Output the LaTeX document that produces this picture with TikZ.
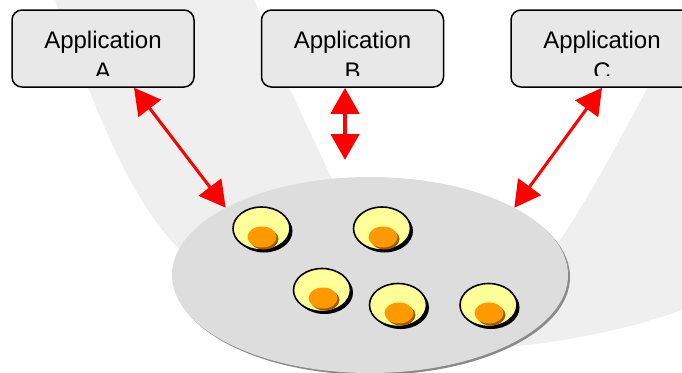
\documentclass[tikz,border=0pt]{standalone}
\usepackage{fontspec}
\setmainfont{Liberation Sans}
\usetikzlibrary{arrows.meta,shapes.geometric,shadows}

\definecolor{bandgray}{HTML}{EFEFEF}
\definecolor{boxgray}{HTML}{E8E8E8}
\definecolor{poolgray}{HTML}{DDDDDD}
\definecolor{poolshade}{HTML}{8A8A8A}
\definecolor{cupyellow}{HTML}{FFFF99}
\definecolor{yolkorange}{HTML}{FF9900}
\definecolor{yolkshade}{HTML}{A05A00}

\tikzset{
  appbox/.style={draw=black, fill=boxgray, line width=1.5pt, rounded corners=10pt,
    minimum width=182pt, minimum height=77pt, inner sep=0pt},
  applabel/.style={align=center, inner sep=0pt, anchor=north,
    font=\fontsize{24}{31}\selectfont},
  pool/.style={ellipse, fill=poolgray, minimum width=396pt, minimum height=196pt, inner sep=0pt},
  cup/.style={ellipse, draw=black, line width=1.6pt, fill=cupyellow,
    minimum width=57pt, minimum height=43pt, inner sep=0pt,
    drop shadow={shadow xshift=2.5pt, shadow yshift=-2.5pt, fill=black, opacity=1}},
  yolk/.style={ellipse, fill=yolkorange, minimum width=29pt, minimum height=21pt, inner sep=0pt,
    drop shadow={shadow xshift=2pt, shadow yshift=-2pt, fill=yolkshade, opacity=1}},
  link/.style={red, line width=3pt,
    {Triangle[length=26pt,width=28pt]}-{Triangle[length=26pt,width=28pt]}},
}

\begin{document}
\begin{tikzpicture}[x=1pt, y=-1pt]
  \useasboundingbox (0,0) rectangle (682,372);
  \clip (0,0) rectangle (682,372);

  % faint swoosh in the background
  \fill[bandgray] (55,0) .. controls (95,110) and (130,200) .. (180,250)
    .. controls (250,320) and (350,352) .. (450,350)
    .. controls (560,348) and (640,325) .. (682,310)
    -- (682,25) .. controls (640,100) and (590,200) .. (553,250)
    .. controls (500,320) and (380,300) .. (330,175)
    .. controls (300,110) and (270,50) .. (255,0) -- cycle;

  % application boxes
  \node[appbox] (A) at (103,48.5) {};
  \node[appbox] (B) at (352.5,48.5) {};
  \node[appbox] (C) at (602,48.5) {};
  \begin{scope}
    \clip (0,10) rectangle (682,75);
    \node[applabel] (tA) at (103,30.5) {Application\\A};
    \node[applabel] (tB) at (352.5,30.5) {Application\\B};
    \node[applabel] (tC) at (602,30.5) {Application\\C};
  \end{scope}

  % shared pool
  \fill[poolshade] (372,277) ellipse [x radius=198, y radius=98];
  \node[pool] (P) at (370,275) {};

  % objects in the pool
  \node[cup] (c1) at (261.5,228.5) {};
  \node[cup] (c2) at (382,228.5) {};
  \node[cup] (c3) at (322,290) {};
  \node[cup] (c4) at (398,305) {};
  \node[cup] (c5) at (488.5,305) {};
  \node[yolk] (y1) at (262,237) {};
  \node[yolk] (y2) at (383,237) {};
  \node[yolk] (y3) at (323,298) {};
  \node[yolk] (y4) at (399,313) {};
  \node[yolk] (y5) at (489,313) {};

  % connections
  \coordinate (bend) at (345,160);
  \draw[link] ([xshift=31pt]A.south) -- (P.155);
  \draw[link, line width=4.5pt] ([xshift=-7.5pt]B.south) -- (bend);
  \draw[link] (C.south) -- (P.25.6);
\end{tikzpicture}
\end{document}
